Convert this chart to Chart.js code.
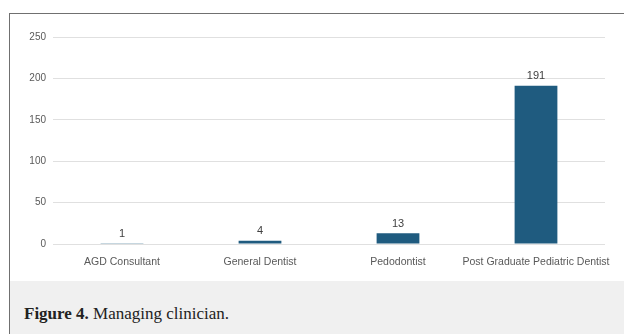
<!DOCTYPE html>
<html>
<head>
<meta charset="utf-8">
<script src="https://cdn.jsdelivr.net/npm/chart.js@4/dist/chart.umd.min.js"></script>
<style>
  html, body { margin: 0; padding: 0; background: #fff; }
  body { width: 624px; height: 334px; position: relative; overflow: hidden; }
  #frame {
    position: absolute; left: 9px; top: 13px; width: 615px; height: 321px;
    border-left: 1px solid #707070; border-top: 1px solid #707070;
    box-sizing: border-box; background: #fff;
  }
  #chartBox { position: absolute; left: 0; top: 0; width: 614px; height: 266px; }
  #caption {
    position: absolute; left: 0; top: 267px; width: 614px; height: 54px;
    background: #f0f0f0;
    font-family: "Liberation Serif", "DejaVu Serif", serif;
    font-size: 17px; color: #222;
    box-sizing: border-box; padding-left: 14px; padding-top: 4px; line-height: 58px;
  }
  #caption b { font-weight: bold; }
</style>
</head>
<body>
<div id="frame">
  <div id="chartBox"><canvas id="c" width="614" height="266"></canvas></div>
  <div id="caption"><b>Figure 4.</b> Managing clinician.</div>
</div>
<script>
// Managing clinician counts
const categories = ["AGD Consultant", "General Dentist", "Pedodontist", "Post Graduate Pediatric Dentist"];
const counts = [1, 4, 13, 191];
const yTicks = [0, 50, 100, 150, 200, 250];

// Writes each bar's value just above it
const valueLabels = {
  id: "valueLabels",
  afterDatasetsDraw(chart) {
    const ctx = chart.ctx;
    const meta = chart.getDatasetMeta(0);
    ctx.save();
    ctx.font = "11px 'Liberation Sans', Arial, sans-serif";
    ctx.fillStyle = "#404040";
    ctx.textAlign = "center";
    ctx.textBaseline = "bottom";
    meta.data.forEach((bar, i) => {
      ctx.fillText(String(counts[i]), bar.x, bar.y - 4);
    });
    ctx.restore();
  }
};

new Chart(document.getElementById("c"), {
  type: "bar",
  data: {
    labels: categories,
    datasets: [{
      data: counts,
      backgroundColor: "#1f5b7f",
      barPercentage: 0.62,
      categoryPercentage: 0.5
    }]
  },
  options: {
    responsive: false,
    animation: false,
    layout: { padding: { left: 0, right: 19, top: 23, bottom: 0 } },
    plugins: { legend: { display: false }, tooltip: { enabled: false } },
    scales: {
      x: {
        grid: { display: false, drawTicks: false },
        border: { display: false },
        ticks: {
          color: "#595959",
          font: { family: "'Liberation Sans', Arial, sans-serif", size: 10.5 },
          padding: 12,
          maxRotation: 0,
          autoSkip: false
        },
        afterFit(scale) { scale.height = 36; }
      },
      y: {
        min: 0,
        max: 250,
        afterBuildTicks(scale) { scale.ticks = yTicks.map(v => ({ value: v })); },
        grid: { color: "#e0e0e0", drawTicks: false, lineWidth: 1 },
        border: { display: false },
        ticks: {
          color: "#595959",
          font: { family: "'Liberation Sans', Arial, sans-serif", size: 10 },
          padding: 7
        },
        afterFit(scale) { scale.width = 43; }
      }
    }
  },
  plugins: [valueLabels]
});
</script>
</body>
</html>
